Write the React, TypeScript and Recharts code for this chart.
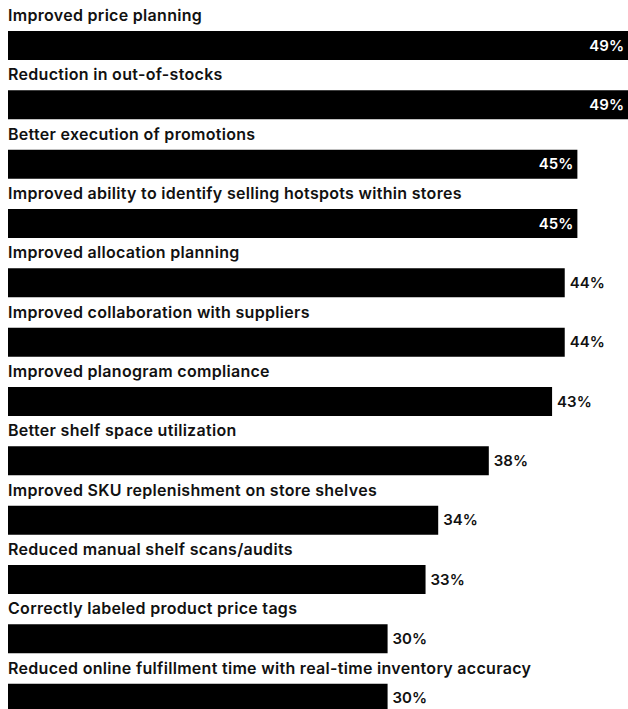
import React from 'react';
import { BarChart, Bar, XAxis, YAxis, LabelList } from 'recharts';

const categories = [
  'Improved price planning',
  'Reduction in out-of-stocks',
  'Better execution of promotions',
  'Improved ability to identify selling hotspots within stores',
  'Improved allocation planning',
  'Improved collaboration with suppliers',
  'Improved planogram compliance',
  'Better shelf space utilization',
  'Improved SKU replenishment on store shelves',
  'Reduced manual shelf scans/audits',
  'Correctly labeled product price tags',
  'Reduced online fulfillment time with real-time inventory accuracy',
];

const values = [49, 49, 45, 45, 44, 44, 43, 38, 34, 33, 30, 30];

const data = categories.map((name, i) => ({ name, value: values[i] }));

const FONT = 'Inter, "Noto Sans", sans-serif';

const NameLabel = (props: any) => {
  const { x, y, value } = props;
  return (
    <text
      x={x}
      y={y - 10}
      fill="#111"
      fontSize={16}
      fontWeight={600}
      letterSpacing={0.3}
      fontFamily={FONT}
    >
      {value}
    </text>
  );
};

const ValueLabel = (props: any) => {
  const { x, y, width, height, value } = props;
  const inside = value >= 45;
  return (
    <text
      x={inside ? x + width - 4 : x + width + 5}
      y={y + height / 2}
      dy="0.35em"
      textAnchor={inside ? 'end' : 'start'}
      fill={inside ? '#fff' : '#111'}
      fontSize={15}
      fontWeight={600}
      fontFamily={FONT}
    >
      {value}%
    </text>
  );
};

export default function App() {
  // absolute box so the clipped chart never makes the page scroll
  return (
    <div style={{ position: 'absolute', top: 0, left: 0, width: 628, height: 709, overflow: 'hidden' }}>
      <BarChart
        style={{ marginLeft: 8 }}
        width={620}
        height={730}
        data={data}
        layout="vertical"
        margin={{ top: 16, right: 0, left: 0, bottom: 2 }}
      >
        <XAxis type="number" domain={[0, 49]} hide />
        <YAxis type="category" dataKey="name" hide />
        <Bar dataKey="value" fill="#000" barSize={29} isAnimationActive={false}>
          <LabelList dataKey="name" content={NameLabel} />
          <LabelList dataKey="value" content={ValueLabel} />
        </Bar>
      </BarChart>
    </div>
  );
}
